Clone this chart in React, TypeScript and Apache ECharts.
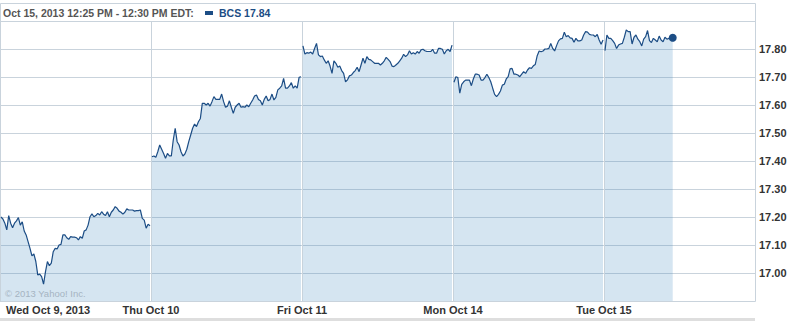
import React, { useEffect, useRef } from "react";
import * as echarts from "echarts";

const headerText = "Oct 15, 2013 12:25 PM - 12:30 PM EDT:";
const legendText = "BCS 17.84";
const copyright = "© 2013 Yahoo! Inc.";
const dayLabels = ["Wed Oct 9, 2013", "Thu Oct 10", "Fri Oct 11", "Mon Oct 14", "Tue Oct 15"];
const SLOTS_PER_DAY = 78;

const day1 = [
  17.2, 17.193, 17.178, 17.154, 17.205, 17.178, 17.162, 17.178, 17.186,
  17.198, 17.171, 17.183, 17.15, 17.136, 17.112, 17.088, 17.061, 17.068, 17.041,
  16.993, 16.996, 16.987, 16.96, 17.005, 17.041, 17.026, 17.035, 17.076,
  17.088, 17.086, 17.1, 17.102, 17.136, 17.136, 17.126, 17.12, 17.13, 17.128,
  17.128, 17.126, 17.118, 17.13, 17.124, 17.15, 17.154, 17.171, 17.201,
  17.211, 17.201, 17.205, 17.213, 17.207, 17.219, 17.21, 17.205, 17.219, 17.201,
  17.217, 17.225, 17.237, 17.231, 17.221, 17.217, 17.21, 17.217, 17.229, 17.225,
  17.225, 17.225, 17.221, 17.223, 17.223, 17.225, 17.195, 17.189, 17.16, 17.174,
  17.169,
];
const day2 = [
  17.415, 17.418, 17.413, 17.433, 17.457, 17.442, 17.427, 17.41, 17.427, 17.418,
  17.418, 17.475, 17.517, 17.469, 17.457, 17.433, 17.418, 17.425, 17.442, 17.469,
  17.493, 17.517, 17.532, 17.523, 17.54, 17.552, 17.606, 17.606, 17.6, 17.606,
  17.596, 17.612, 17.63, 17.62, 17.62, 17.62, 17.639, 17.612, 17.592, 17.596,
  17.615, 17.592, 17.57, 17.592, 17.6, 17.606, 17.592, 17.594, 17.592, 17.6,
  17.594, 17.606, 17.618, 17.632, 17.636, 17.62, 17.615, 17.6, 17.62, 17.632,
  17.615, 17.62, 17.639, 17.618, 17.627, 17.654, 17.66, 17.668, 17.695, 17.66,
  17.66, 17.668, 17.68, 17.66, 17.668, 17.66, 17.699, 17.701,
];
const day3 = [
  17.811, 17.782, 17.787, 17.785, 17.789, 17.782, 17.802, 17.82, 17.779, 17.773,
  17.775, 17.761, 17.749, 17.758, 17.739, 17.713, 17.758, 17.749, 17.735, 17.739,
  17.723, 17.713, 17.683, 17.69, 17.704, 17.707, 17.716, 17.723, 17.735, 17.719,
  17.743, 17.767, 17.749, 17.773, 17.763, 17.761, 17.755, 17.749, 17.749, 17.749,
  17.743, 17.749, 17.758, 17.77, 17.763, 17.755, 17.739, 17.737, 17.743, 17.749,
  17.758, 17.767, 17.781, 17.773, 17.779, 17.794, 17.782, 17.787, 17.782, 17.791,
  17.785, 17.797, 17.799, 17.794, 17.791, 17.791, 17.791, 17.799, 17.785, 17.785,
  17.802, 17.802, 17.799, 17.782, 17.794, 17.799, 17.791, 17.814,
];
const day4 = [
  17.681, 17.701, 17.698, 17.642, 17.674, 17.683, 17.689, 17.689, 17.689, 17.669,
  17.693, 17.71, 17.71, 17.707, 17.689, 17.689, 17.698, 17.71, 17.698, 17.683,
  17.66, 17.638, 17.63, 17.638, 17.65, 17.671, 17.674, 17.693, 17.701, 17.729,
  17.731, 17.71, 17.71, 17.707, 17.701, 17.71, 17.719, 17.713, 17.725, 17.733,
  17.731, 17.74, 17.745, 17.776, 17.793, 17.79, 17.793, 17.8, 17.8, 17.802,
  17.82, 17.802, 17.793, 17.812, 17.829, 17.836, 17.838, 17.86, 17.844, 17.848,
  17.84, 17.838, 17.824, 17.838, 17.829, 17.829, 17.832, 17.85, 17.862, 17.86,
  17.852, 17.85, 17.85, 17.844, 17.852, 17.832, 17.817, 17.832,
];
const day5 = [
  17.794, 17.85, 17.838, 17.838, 17.83, 17.82, 17.802, 17.814, 17.818, 17.82,
  17.842, 17.868, 17.862, 17.862, 17.818, 17.842, 17.85, 17.835, 17.826, 17.811,
  17.835, 17.844, 17.866, 17.83, 17.823, 17.838, 17.832, 17.826, 17.846, 17.832,
  17.826, 17.842, 17.835, 17.838, 17.842, 17.84,
];
const days = [day1, day2, day3, day4, day5];

const LINE = "#1c4d85";
const GRID = "#c9d3dc";

export default function App() {
  const ref = useRef<HTMLDivElement>(null);
  useEffect(() => {
    document.body.style.margin = "0";
    const chart = echarts.init(ref.current!, null, { renderer: "svg" });
    const series: any[] = days.map((arr, d) => ({
      type: "line",
      data: arr.map((v, i) => [d * SLOTS_PER_DAY + i + 0.5, v]),
      showSymbol: false,
      lineStyle: { color: LINE, width: 1.2 },
      areaStyle: { color: "rgba(62,135,190,0.22)", opacity: 1, origin: "start" },
      z: 3,
    }));
    const last = day5[day5.length - 1];
    series.push({
      type: "scatter",
      data: [[4 * SLOTS_PER_DAY + day5.length - 1 + 0.5, last]],
      symbol: "circle",
      symbolSize: 8,
      itemStyle: { color: LINE, opacity: 1 },
      z: 5,
    });
    chart.setOption({
      animation: false,
      grid: { left: 0, top: 21, width: 755, height: 280, containLabel: false },
      xAxis: {
        type: "value",
        min: 0,
        max: SLOTS_PER_DAY * 5,
        interval: SLOTS_PER_DAY,
        axisLine: { show: false },
        axisTick: { show: false },
        splitLine: { show: true, lineStyle: { color: GRID, width: 1 } },
        axisLabel: {
          margin: 3,
          color: "#333",
          fontFamily: "Liberation Sans",
          fontWeight: "bold",
          fontSize: 11,
          alignMinLabel: "left",
          formatter: (v: number) => {
            const idx = Math.round(v / SLOTS_PER_DAY);
            if (idx === 0) return "{first|" + dayLabels[0] + "}";
            return dayLabels[idx] ?? "";
          },
          rich: {
            first: {
              padding: [0, 0, 0, 6],
              color: "#333",
              fontFamily: "Liberation Sans",
              fontWeight: "bold",
              fontSize: 11,
            },
          },
        },
      },
      yAxis: {
        type: "value",
        position: "right",
        min: 16.9,
        max: 17.9,
        interval: 0.1,
        axisLine: { show: false },
        axisTick: { show: false },
        splitLine: { show: true, lineStyle: { color: GRID, width: 1 } },
        axisLabel: {
          margin: 4,
          color: "#333",
          fontFamily: "Liberation Sans",
          fontWeight: "bold",
          fontSize: 11,
          formatter: (v: number) => (v < 16.95 || v > 17.85 ? "" : v.toFixed(2)),
        },
      },
      series,
      graphic: [
        {
          type: "rect",
          shape: { x: 0.5, y: 3.5, width: 755, height: 298 },
          style: { fill: "none", stroke: GRID, lineWidth: 1 },
          z: 1,
        },
        {
          type: "rect",
          shape: { x: 0, y: 318, width: 755, height: 3 },
          style: { fill: "#dedede" },
        },
        {
          type: "text",
          x: 3,
          y: 13,
          style: {
            text: headerText,
            fill: "#555",
            font: "bold 10.5px 'Liberation Sans'",
            textVerticalAlign: "middle",
          },
        },
        {
          type: "rect",
          shape: { x: 205, y: 11, width: 8, height: 4 },
          style: { fill: LINE },
        },
        {
          type: "text",
          x: 219,
          y: 13,
          style: {
            text: legendText,
            fill: LINE,
            font: "bold 10.5px 'Liberation Sans'",
            textVerticalAlign: "middle",
          },
        },
        {
          type: "text",
          x: 5,
          y: 293,
          z: 10,
          style: {
            text: copyright,
            fill: "#a5b4c2",
            font: "9.5px 'Liberation Sans'",
            textVerticalAlign: "middle",
          },
        },
      ],
    });
    return () => chart.dispose();
  }, []);
  return (
    <div
      ref={ref}
      style={{ position: "absolute", left: 0, top: 0, width: 797, height: 321 }}
    />
  );
}
